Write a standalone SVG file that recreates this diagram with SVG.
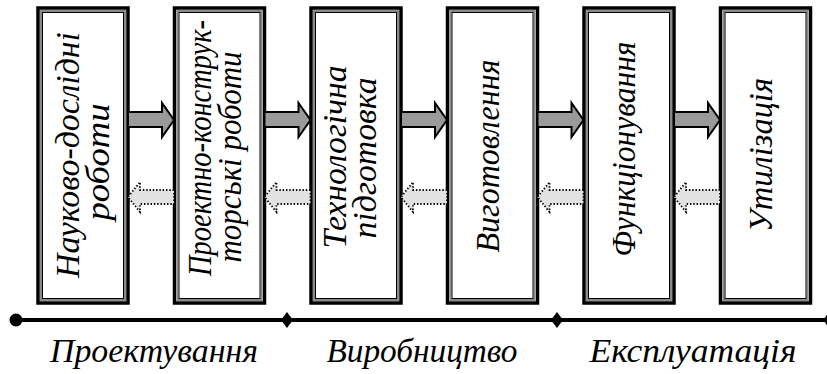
<svg xmlns="http://www.w3.org/2000/svg" width="827" height="374" viewBox="0 0 827 374">
  <style>
    .frame-out { fill: #ffffff; stroke: #000000; stroke-width: 3.5; }
    .frame-mid { fill: none; stroke: #8a8a8a; stroke-width: 2; }
    .frame-in { fill: none; stroke: #000000; stroke-width: 1; }
    .fwd { fill: #9a9a9a; stroke: #000000; stroke-width: 2; stroke-linejoin: miter; }
    .back { fill: #e2e2e2; stroke: #000000; stroke-width: 1.8; stroke-dasharray: 1.4 1.9; }
    .axis { stroke: #000000; stroke-width: 4; fill: none; }
  </style>
  <defs>
    <!-- double-ruled frame, 90 x 295 -->
    <g id="frame">
      <rect class="frame-out" x="0" y="0" width="90" height="295"/>
      <rect class="frame-mid" x="3" y="3" width="84" height="289"/>
      <rect class="frame-in" x="4.5" y="4.5" width="81" height="286"/>
    </g>
    <!-- solid forward arrow spanning a 46px gap -->
    <path id="fwd-arrow" class="fwd" d="M0,112 H34 V103 L46,120 L34,137 V127 H0 Z"/>
    <!-- dotted return arrow spanning a 46px gap -->
    <path id="back-arrow" class="back" d="M46,190 H12 V182 L0,197 L12,212 V204 H46 Z"/>
  </defs>

  <g font-family="Liberation Serif" font-style="italic" font-size="33" fill="#000000" text-anchor="middle">
    <!-- stages -->
    <g id="node-research">
      <use href="#frame" x="38" y="8"/>
      <text transform="translate(79,155) rotate(-90)" textLength="246" lengthAdjust="spacingAndGlyphs">Науково-дослідні</text>
      <text transform="translate(109,162) rotate(-90)" textLength="117" lengthAdjust="spacingAndGlyphs">роботи</text>
    </g>
    <g id="node-design">
      <use href="#frame" x="174.5" y="8"/>
      <text transform="translate(211,148) rotate(-90)" textLength="256" lengthAdjust="spacingAndGlyphs">Проектно-конструк-</text>
      <text transform="translate(241,157) rotate(-90)" textLength="211" lengthAdjust="spacingAndGlyphs">торські роботи</text>
    </g>
    <g id="node-tech">
      <use href="#frame" x="311" y="8"/>
      <text transform="translate(346,157) rotate(-90)" textLength="183" lengthAdjust="spacingAndGlyphs">Технологічна</text>
      <text transform="translate(376,158) rotate(-90)" textLength="161" lengthAdjust="spacingAndGlyphs">підготовка</text>
    </g>
    <g id="node-production">
      <use href="#frame" x="447.5" y="8"/>
      <text transform="translate(499,156) rotate(-90)" textLength="193" lengthAdjust="spacingAndGlyphs">Виготовлення</text>
    </g>
    <g id="node-operation">
      <use href="#frame" x="584" y="8"/>
      <text transform="translate(635,149) rotate(-90)" textLength="215" lengthAdjust="spacingAndGlyphs">Функціонування</text>
    </g>
    <g id="node-disposal">
      <use href="#frame" x="720.5" y="8"/>
      <text transform="translate(772,155) rotate(-90)" textLength="154" lengthAdjust="spacingAndGlyphs">Утилізація</text>
    </g>

    <!-- phase names under the axis -->
    <g id="phase-labels">
      <text x="154" y="362" textLength="208" lengthAdjust="spacingAndGlyphs">Проектування</text>
      <text x="422" y="362" textLength="191" lengthAdjust="spacingAndGlyphs">Виробництво</text>
      <text x="693" y="362" textLength="207" lengthAdjust="spacingAndGlyphs">Експлуатація</text>
    </g>
  </g>

  <!-- connectors between stages -->
  <g id="connectors">
    <use href="#fwd-arrow" x="128"/>
    <use href="#fwd-arrow" x="264.5"/>
    <use href="#fwd-arrow" x="401"/>
    <use href="#fwd-arrow" x="537.5"/>
    <use href="#fwd-arrow" x="674"/>
    <use href="#back-arrow" x="128"/>
    <use href="#back-arrow" x="264.5"/>
    <use href="#back-arrow" x="401"/>
    <use href="#back-arrow" x="537.5"/>
    <use href="#back-arrow" x="674"/>
  </g>

  <!-- life-cycle phase axis -->
  <g id="phase-axis">
    <line class="axis" x1="16" y1="320" x2="827" y2="320"/>
    <circle cx="16" cy="320" r="6.5" fill="#000000"/>
    <polygon points="287,312 293,320 287,328 281,320" fill="#000000"/>
    <polygon points="557,312 563,320 557,328 551,320" fill="#000000"/>
    <circle cx="831" cy="320" r="6.5" fill="#000000"/>
  </g>
</svg>
